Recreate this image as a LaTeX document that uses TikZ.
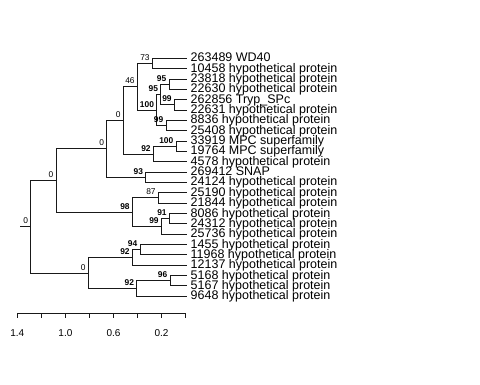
\documentclass[tikz,border=0pt]{standalone}
\usepackage{fontspec}
\setmainfont{Liberation Sans}
\tikzset{
  br/.style={line width=1pt, black!90},
  leaflab/.style={anchor=base west, inner sep=0pt, xshift=3.5pt, yshift=-3.5pt, font=\fontsize{12.5}{12.5}\selectfont},
  nl/.style={anchor=base east, inner sep=0pt, xshift=-2.5pt, yshift=3pt, font=\fontsize{8.4}{8.4}\selectfont},
  nlb/.style={nl, font=\fontsize{8.4}{8.4}\selectfont\bfseries},
  ticklab/.style={anchor=center, inner sep=0pt, font=\fontsize{10}{10}\selectfont}
}
\begin{document}
\begin{tikzpicture}[x=1pt,y=-1pt]
\useasboundingbox (0,0) rectangle (480,384);
% leaf tips
\coordinate (t1) at (187,58.30);
\coordinate (t2) at (187,68.65);
\coordinate (t3) at (187,79.00);
\coordinate (t4) at (187,89.34);
\coordinate (t5) at (187,99.69);
\coordinate (t6) at (187,110.04);
\coordinate (t7) at (187,120.39);
\coordinate (t8) at (187,130.74);
\coordinate (t9) at (187,141.08);
\coordinate (t10) at (187,151.43);
\coordinate (t11) at (187,161.78);
\coordinate (t12) at (187,172.13);
\coordinate (t13) at (187,182.48);
\coordinate (t14) at (187,192.82);
\coordinate (t15) at (187,203.17);
\coordinate (t16) at (187,213.52);
\coordinate (t17) at (187,223.87);
\coordinate (t18) at (187,234.22);
\coordinate (t19) at (187,244.56);
\coordinate (t20) at (187,254.91);
\coordinate (t21) at (187,265.26);
\coordinate (t22) at (187,275.61);
\coordinate (t23) at (187,285.96);
\coordinate (t24) at (187,296.30);
% internal nodes
\coordinate (H) at (152.3,63.48);
\coordinate (L) at (169.0,84.17);
\coordinate (M) at (174.3,104.87);
\coordinate (J) at (160.7,94.52);
\coordinate (K) at (166.0,125.57);
\coordinate (I) at (156.7,110.04);
\coordinate (E) at (137.3,86.76);
\coordinate (G) at (176.0,146.26);
\coordinate (F) at (153.3,154.02);
\coordinate (C) at (123.3,120.39);
\coordinate (D) at (145.7,177.31);
\coordinate (A1) at (106.7,148.85);
\coordinate (T) at (158.3,197.99);
\coordinate (V) at (169.3,218.69);
\coordinate (U) at (161.3,226.46);
\coordinate (S) at (132.3,212.22);
\coordinate (A) at (56.0,180.54);
\coordinate (O) at (140.0,249.74);
\coordinate (N) at (132.3,257.50);
\coordinate (Q) at (170.0,280.78);
\coordinate (P) at (136.7,288.54);
\coordinate (B) at (88.3,273.02);
\coordinate (R) at (30.7,226.78);
\coordinate (stub) at (20.0,226.78);
% branches
\draw[br] (stub) -- (R);
\draw[br] (R) |- (A); \draw[br] (R) |- (B);
\draw[br] (A) |- (A1); \draw[br] (A) |- (S);
\draw[br] (A1) |- (C); \draw[br] (A1) |- (D);
\draw[br] (C) |- (E); \draw[br] (C) |- (F);
\draw[br] (E) |- (H); \draw[br] (E) |- (I);
\draw[br] (H) |- (t1); \draw[br] (H) |- (t2);
\draw[br] (I) |- (J); \draw[br] (I) |- (K);
\draw[br] (J) |- (L); \draw[br] (J) |- (M);
\draw[br] (L) |- (t3); \draw[br] (L) |- (t4);
\draw[br] (M) |- (t5); \draw[br] (M) |- (t6);
\draw[br] (K) |- (t7); \draw[br] (K) |- (t8);
\draw[br] (F) |- (G); \draw[br] (F) |- (t11);
\draw[br] (G) |- (t9); \draw[br] (G) |- (t10);
\draw[br] (D) |- (t12); \draw[br] (D) |- (t13);
\draw[br] (S) |- (T); \draw[br] (S) |- (U);
\draw[br] (T) |- (t14); \draw[br] (T) |- (t15);
\draw[br] (U) |- (V); \draw[br] (U) |- (t18);
\draw[br] (V) |- (t16); \draw[br] (V) |- (t17);
\draw[br] (B) |- (N); \draw[br] (B) |- (P);
\draw[br] (N) |- (O); \draw[br] (N) |- (t21);
\draw[br] (O) |- (t19); \draw[br] (O) |- (t20);
\draw[br] (P) |- (Q); \draw[br] (P) |- (t24);
\draw[br] (Q) |- (t22); \draw[br] (Q) |- (t23);
% leaf labels
\node[leaflab] (l1) at (t1) {263489 WD40};
\node[leaflab] (l2) at (t2) {10458 hypothetical protein};
\node[leaflab] (l3) at (t3) {23818 hypothetical protein};
\node[leaflab] (l4) at (t4) {22630 hypothetical protein};
\node[leaflab] (l5) at (t5) {262856 Tryp\_SPc};
\node[leaflab] (l6) at (t6) {22631 hypothetical protein};
\node[leaflab] (l7) at (t7) {8836 hypothetical protein};
\node[leaflab] (l8) at (t8) {25408 hypothetical protein};
\node[leaflab] (l9) at (t9) {33919 MPC superfamily};
\node[leaflab] (l10) at (t10) {19764 MPC superfamily};
\node[leaflab] (l11) at (t11) {4578 hypothetical protein};
\node[leaflab] (l12) at (t12) {269412 SNAP};
\node[leaflab] (l13) at (t13) {24124 hypothetical protein};
\node[leaflab] (l14) at (t14) {25190 hypothetical protein};
\node[leaflab] (l15) at (t15) {21844 hypothetical protein};
\node[leaflab] (l16) at (t16) {8086 hypothetical protein};
\node[leaflab] (l17) at (t17) {24312 hypothetical protein};
\node[leaflab] (l18) at (t18) {25736 hypothetical protein};
\node[leaflab] (l19) at (t19) {1455 hypothetical protein};
\node[leaflab] (l20) at (t20) {11968 hypothetical protein};
\node[leaflab] (l21) at (t21) {12137 hypothetical protein};
\node[leaflab] (l22) at (t22) {5168 hypothetical protein};
\node[leaflab] (l23) at (t23) {5167 hypothetical protein};
\node[leaflab] (l24) at (t24) {9648 hypothetical protein};
% node labels
\node[nl] (nR) at (R) {0};
\node[nl] (nA) at (A) {0};
\node[nl] (nA1) at (A1) {0};
\node[nl] (nC) at (C) {0};
\node[nl] (nE) at (E) {46};
\node[nl] (nH) at (H) {73};
\node[nlb] (nI) at (I) {100};
\node[nlb] (nJ) at (J) {95};
\node[nlb] (nL) at (L) {95};
\node[nlb] (nM) at (M) {99};
\node[nlb] (nK) at (K) {99};
\node[nlb] (nF) at (F) {92};
\node[nlb] (nG) at (G) {100};
\node[nlb] (nD) at (D) {93};
\node[nlb] (nS) at (S) {98};
\node[nl] (nT) at (T) {87};
\node[nlb] (nU) at (U) {99};
\node[nlb] (nV) at (V) {91};
\node[nl] (nB) at (B) {0};
\node[nlb] (nN) at (N) {92};
\node[nlb] (nO) at (O) {94};
\node[nlb] (nP) at (P) {92};
\node[nlb] (nQ) at (Q) {96};
% axis
\coordinate (ax0) at (17.3,313.3);
\coordinate (ax1) at (185.7,313.3);
\draw[br] (ax0) -- (ax1);
\foreach \k in {0,...,7} {
  \draw[br] ({17.3+24.057*\k},313.3) -- ({17.3+24.057*\k},317.8);
}
\node[ticklab] (x14) at (17.3,333.3) {1.4};
\node[ticklab] (x10) at (65.4,333.3) {1.0};
\node[ticklab] (x06) at (113.5,333.3) {0.6};
\node[ticklab] (x02) at (161.6,333.3) {0.2};
\end{tikzpicture}
\end{document}
